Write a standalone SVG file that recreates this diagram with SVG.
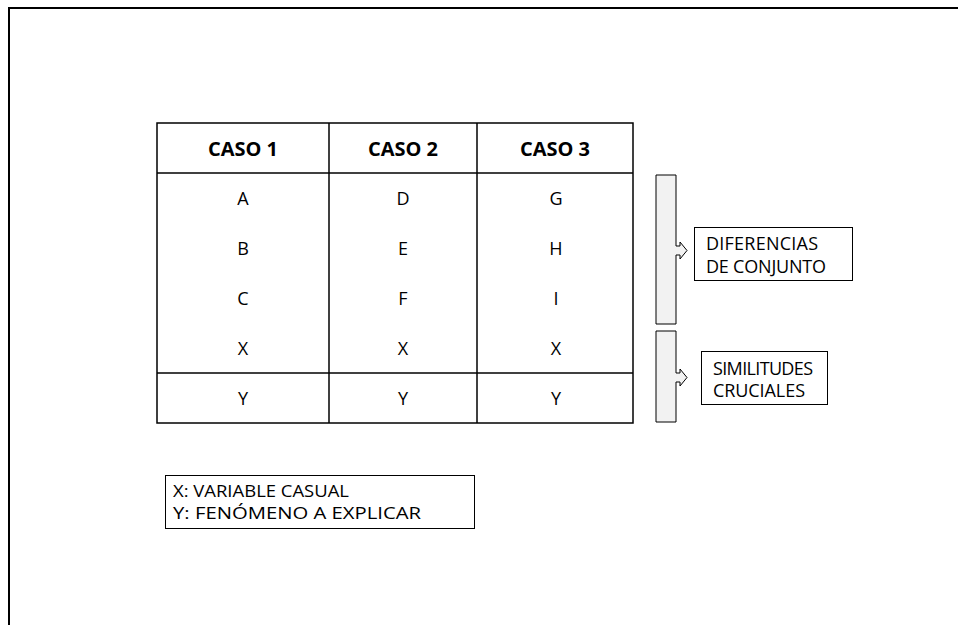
<svg xmlns="http://www.w3.org/2000/svg" width="958" height="625" viewBox="0 0 958 625">
<style>
text{font-family:"Open Sans","Liberation Sans",sans-serif;fill:#000}
.h{font-size:20px;font-weight:bold;text-anchor:middle}
.c{font-size:18px;text-anchor:middle}
.s{font-size:18px}
.l{font-size:17px}
.tl{stroke:#000;stroke-width:1.5;fill:none}
.bx{stroke:#000;stroke-width:1;fill:#fff}
.br{stroke:#000;stroke-width:1;fill:#f2f2f2}
</style>
<rect width="958" height="625" fill="#fff"/>
<path d="M9 625 V8 H958" fill="none" stroke="#000" stroke-width="2"/>
<g id="table">
<rect x="157" y="123" width="476" height="300" class="tl"/>
<line x1="157" y1="173" x2="633" y2="173" class="tl"/>
<line x1="157" y1="373" x2="633" y2="373" class="tl"/>
<line x1="329" y1="123" x2="329" y2="423" class="tl"/>
<line x1="477" y1="123" x2="477" y2="423" class="tl"/>
<text class="h" x="243" y="156">CASO 1</text>
<text class="h" x="403" y="156">CASO 2</text>
<text class="h" x="555" y="156">CASO 3</text>
<text class="c" x="243" y="205">A</text>
<text class="c" x="403" y="205">D</text>
<text class="c" x="556" y="205">G</text>
<text class="c" x="243" y="255">B</text>
<text class="c" x="403" y="255">E</text>
<text class="c" x="556" y="255">H</text>
<text class="c" x="243" y="305">C</text>
<text class="c" x="403" y="305">F</text>
<text class="c" x="556" y="305">I</text>
<text class="c" x="243" y="355">X</text>
<text class="c" x="403" y="355">X</text>
<text class="c" x="556" y="355">X</text>
<text class="c" x="243" y="405">Y</text>
<text class="c" x="403" y="405">Y</text>
<text class="c" x="556" y="405">Y</text>
</g>
<g id="bracket-diferencias">
<path class="br" d="M656 175 H676 V246 H680 V242 L687 250.5 L680 259 V255 H676 V324 H656 Z"/>
</g>
<g id="bracket-similitudes">
<path class="br" d="M656 331 H676 V373 H680 V369 L687 377.5 L680 386 V382 H676 V422 H656 Z"/>
</g>
<g id="diferencias">
<rect x="694.5" y="227.5" width="158" height="53" class="bx"/>
<text class="s" x="706" y="250" textLength="112">DIFERENCIAS</text>
<text class="s" x="706" y="273" textLength="120">DE CONJUNTO</text>
</g>
<g id="similitudes">
<rect x="701.5" y="351.5" width="126" height="53" class="bx"/>
<text class="s" x="713" y="375" textLength="100">SIMILITUDES</text>
<text class="s" x="713" y="397" textLength="92">CRUCIALES</text>
</g>
<g id="legend">
<rect x="165.5" y="475.5" width="309" height="53" class="bx"/>
<text class="l" x="173" y="497" textLength="176" lengthAdjust="spacingAndGlyphs">X: VARIABLE CASUAL</text>
<text class="l" x="173" y="519" textLength="248" lengthAdjust="spacingAndGlyphs">Y: FENÓMENO A EXPLICAR</text>
</g>
</svg>
